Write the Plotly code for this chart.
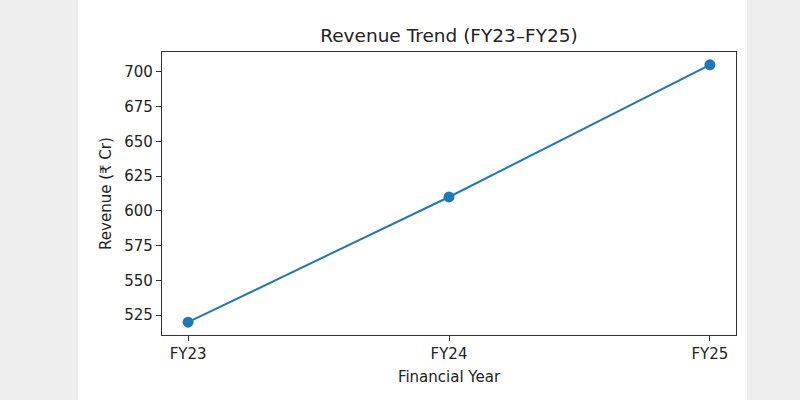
import plotly.graph_objects as go

years = ["FY23", "FY24", "FY25"]
revenue = [520, 610, 705]
y_ticks = [525, 550, 575, 600, 625, 650, 675, 700]

fig = go.Figure()
fig.add_trace(go.Scatter(
    x=[0, 1, 2], y=revenue, mode="lines+markers",
    line=dict(color="#1f77b4", width=2),
    marker=dict(color="#1f77b4", size=11),
    showlegend=False,
))

L, R, T, B = 162, 64, 52, 65
W, H = 800, 400
pw, ph = W - L - R, H - T - B
def px(xp):
    return (xp - L) / pw
def py(yp):
    return (H - B - yp) / ph

gray = "#eeeeee"
fig.add_shape(type="rect", xref="paper", yref="paper", x0=px(0), x1=px(78), y0=py(400), y1=py(0),
              fillcolor=gray, line_width=0, layer="below")
fig.add_shape(type="rect", xref="paper", yref="paper", x0=px(747), x1=px(800), y0=py(400), y1=py(0),
              fillcolor=gray, line_width=0, layer="below")

axis_common = dict(showline=True, linecolor="#333333", linewidth=1.2, mirror=True,
                   ticks="outside", ticklen=5, tickcolor="#333333", tickwidth=1,
                   showgrid=False, zeroline=False,
                   tickfont=dict(family="DejaVu Sans", size=15, color="#222222"))

fig.update_layout(
    width=W, height=H,
    margin=dict(l=L, r=R, t=T, b=B),
    paper_bgcolor="white", plot_bgcolor="white",
    font=dict(family="DejaVu Sans", color="#222222"),
    title=dict(text="Revenue Trend (FY23–FY25)", x=(L + pw / 2) / W, xanchor="center",
               y=1 - 36 / H, yanchor="middle", font=dict(size=18.5, color="#222222")),
    xaxis=dict(range=[-0.1, 2.1], tickvals=[0, 1, 2], ticktext=years,
               title=dict(text="Financial Year", font=dict(size=15), standoff=9), **axis_common),
    yaxis=dict(range=[510.75, 714.25], tickvals=y_ticks,
               title=dict(text="Revenue (₹ Cr)", font=dict(size=15), standoff=9), **axis_common),
)

fig.write_html("out.html")
